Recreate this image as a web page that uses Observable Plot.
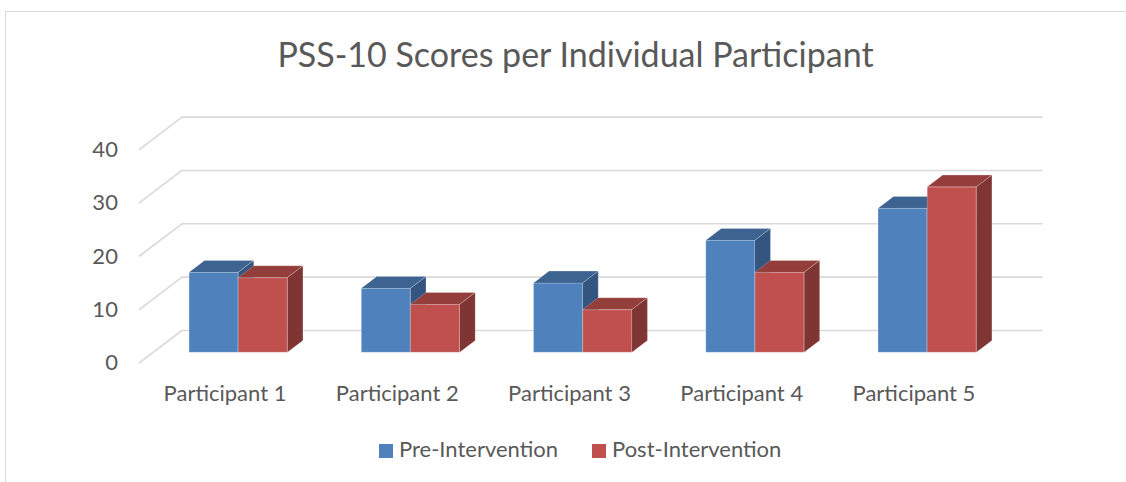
<!DOCTYPE html>
<html>
<head>
<meta charset="utf-8">
<script src="https://cdn.jsdelivr.net/npm/d3@7"></script>
<script src="https://cdn.jsdelivr.net/npm/@observablehq/plot@0.6"></script>
<style>
  html, body { margin: 0; padding: 0; background: #fff; }
  #wrap { position: relative; width: 1126px; height: 482px; overflow: hidden; font-family: Lato, "Open Sans", sans-serif; }
  #frame { position: absolute; left: 5px; top: 11px; width: 1200px; height: 600px; border: 1.5px solid #d9d9d9; box-sizing: border-box; }
  #chart { position: absolute; left: 0; top: 0; }
  #title { position: absolute; left: 0; top: 34px; width: 1151px; text-align: center; font-size: 34px; line-height: 40px; color: #595959; white-space: nowrap; }
  #legend { position: absolute; left: 379px; top: 435px; display: flex; align-items: flex-start; font-size: 22px; line-height: 28px; color: #595959; white-space: nowrap; }
  #legend .item { display: flex; align-items: flex-start; margin-right: 34px; }
  #legend .sw { width: 13.5px; height: 13.5px; margin-top: 9px; margin-right: 6.5px; }
</style>
</head>
<body>
<div id="wrap">
  <div id="frame"></div>
  <div id="chart"></div>
  <div id="title"></div>
  <div id="legend"></div>
</div>
<script>
// ---- data ----
const chartTitle = "PSS-10 Scores per Individual Participant";
const participants = ["Participant 1", "Participant 2", "Participant 3", "Participant 4", "Participant 5"];
const preScores  = [15, 12, 13, 21, 27];
const postScores = [14, 9, 8, 15, 31];
const seriesNames = ["Pre-Intervention", "Post-Intervention"];
const yTicks = [0, 10, 20, 30, 40];

// ---- style ----
const frontColors = ["#4F81BD", "#C0504D"];
const topColors   = ["#3D6391", "#943E3B"];
const sideColors  = ["#345580", "#7F3533"];
const gridColor = "#d9d9d9";
const textColor = "#595959";

// oblique 3D projection (depth vector expressed in data units)
const DX = 0.2496;   // category units for full depth
const DY = 6.13;     // value units for full depth
const F0 = 0.32, F1 = 0.68;          // bar front/back depth fractions
const BAR_W = 1 / 3.5, GAP = 0.75 / 3.5;

const seriesValues = [preScores, postScores];
const bars = [];
seriesValues.forEach((vals, s) => {
  vals.forEach((v, i) => {
    const x0 = i + GAP + s * BAR_W;
    bars.push({s, i, id: s + "-" + i, x0, x1: x0 + BAR_W, v});
  });
});

function topPoints(s) {
  return bars.filter(b => b.s === s).flatMap(b => [
    {id: b.id, y: b.v + F0 * DY, xa: b.x0 + F0 * DX, xb: b.x1 + F0 * DX},
    {id: b.id, y: b.v + F1 * DY, xa: b.x0 + F1 * DX, xb: b.x1 + F1 * DX}
  ]);
}
function sidePoints(s) {
  return bars.filter(b => b.s === s).flatMap(b => [
    {id: b.id, x: b.x1 + F0 * DX, ya: F0 * DY, yb: b.v + F0 * DY},
    {id: b.id, x: b.x1 + F1 * DX, ya: F1 * DY, yb: b.v + F1 * DY}
  ]);
}

const edge = {stroke: "#ffffff", strokeOpacity: 0.22, strokeWidth: 1};
const barMarks = [];
[0, 1].forEach(s => {
  barMarks.push(Plot.rect(bars.filter(b => b.s === s), {
    x1: b => b.x0 + F0 * DX, x2: b => b.x1 + F0 * DX,
    y1: () => F0 * DY, y2: b => b.v + F0 * DY,
    fill: frontColors[s], ...edge
  }));
  barMarks.push(Plot.areaX(topPoints(s), {
    y: "y", x1: "xa", x2: "xb", z: "id", fill: topColors[s], ...edge
  }));
  barMarks.push(Plot.areaY(sidePoints(s), {
    x: "x", y1: "ya", y2: "yb", z: "id", fill: sideColors[s], ...edge
  }));
});

const plot = Plot.plot({
  width: 1126,
  height: 482,
  marginLeft: 138.4,
  marginRight: 126.4,
  marginTop: 149.3,
  marginBottom: 119.3,
  style: {fontFamily: "Lato, 'Open Sans', sans-serif", background: "transparent"},
  x: {domain: [0, participants.length], axis: null},
  y: {domain: [0, 40]},
  marks: [
    Plot.ruleY(yTicks, {y: t => t + DY, x1: () => DX, x2: () => participants.length + DX, stroke: gridColor, strokeWidth: 1.6}),
    Plot.link(yTicks, {x1: () => 0, y1: t => t, x2: () => DX, y2: t => t + DY, stroke: gridColor, strokeWidth: 1.6}),
    Plot.axisY({ticks: yTicks, tickSize: 0, tickPadding: 21, fontSize: 22, color: textColor, label: null}),
    Plot.text(participants, {x: (d, i) => i + 0.5, frameAnchor: "bottom", dy: 22, lineAnchor: "top", fontSize: 22, fill: textColor}),
    ...barMarks
  ]
});
document.getElementById("chart").appendChild(plot);

document.getElementById("title").textContent = chartTitle;
const legend = document.getElementById("legend");
seriesNames.forEach((name, s) => {
  const item = document.createElement("div");
  item.className = "item";
  const sw = document.createElement("span");
  sw.className = "sw";
  sw.style.background = frontColors[s];
  const label = document.createElement("span");
  label.textContent = name;
  item.appendChild(sw);
  item.appendChild(label);
  legend.appendChild(item);
});
</script>
</body>
</html>
